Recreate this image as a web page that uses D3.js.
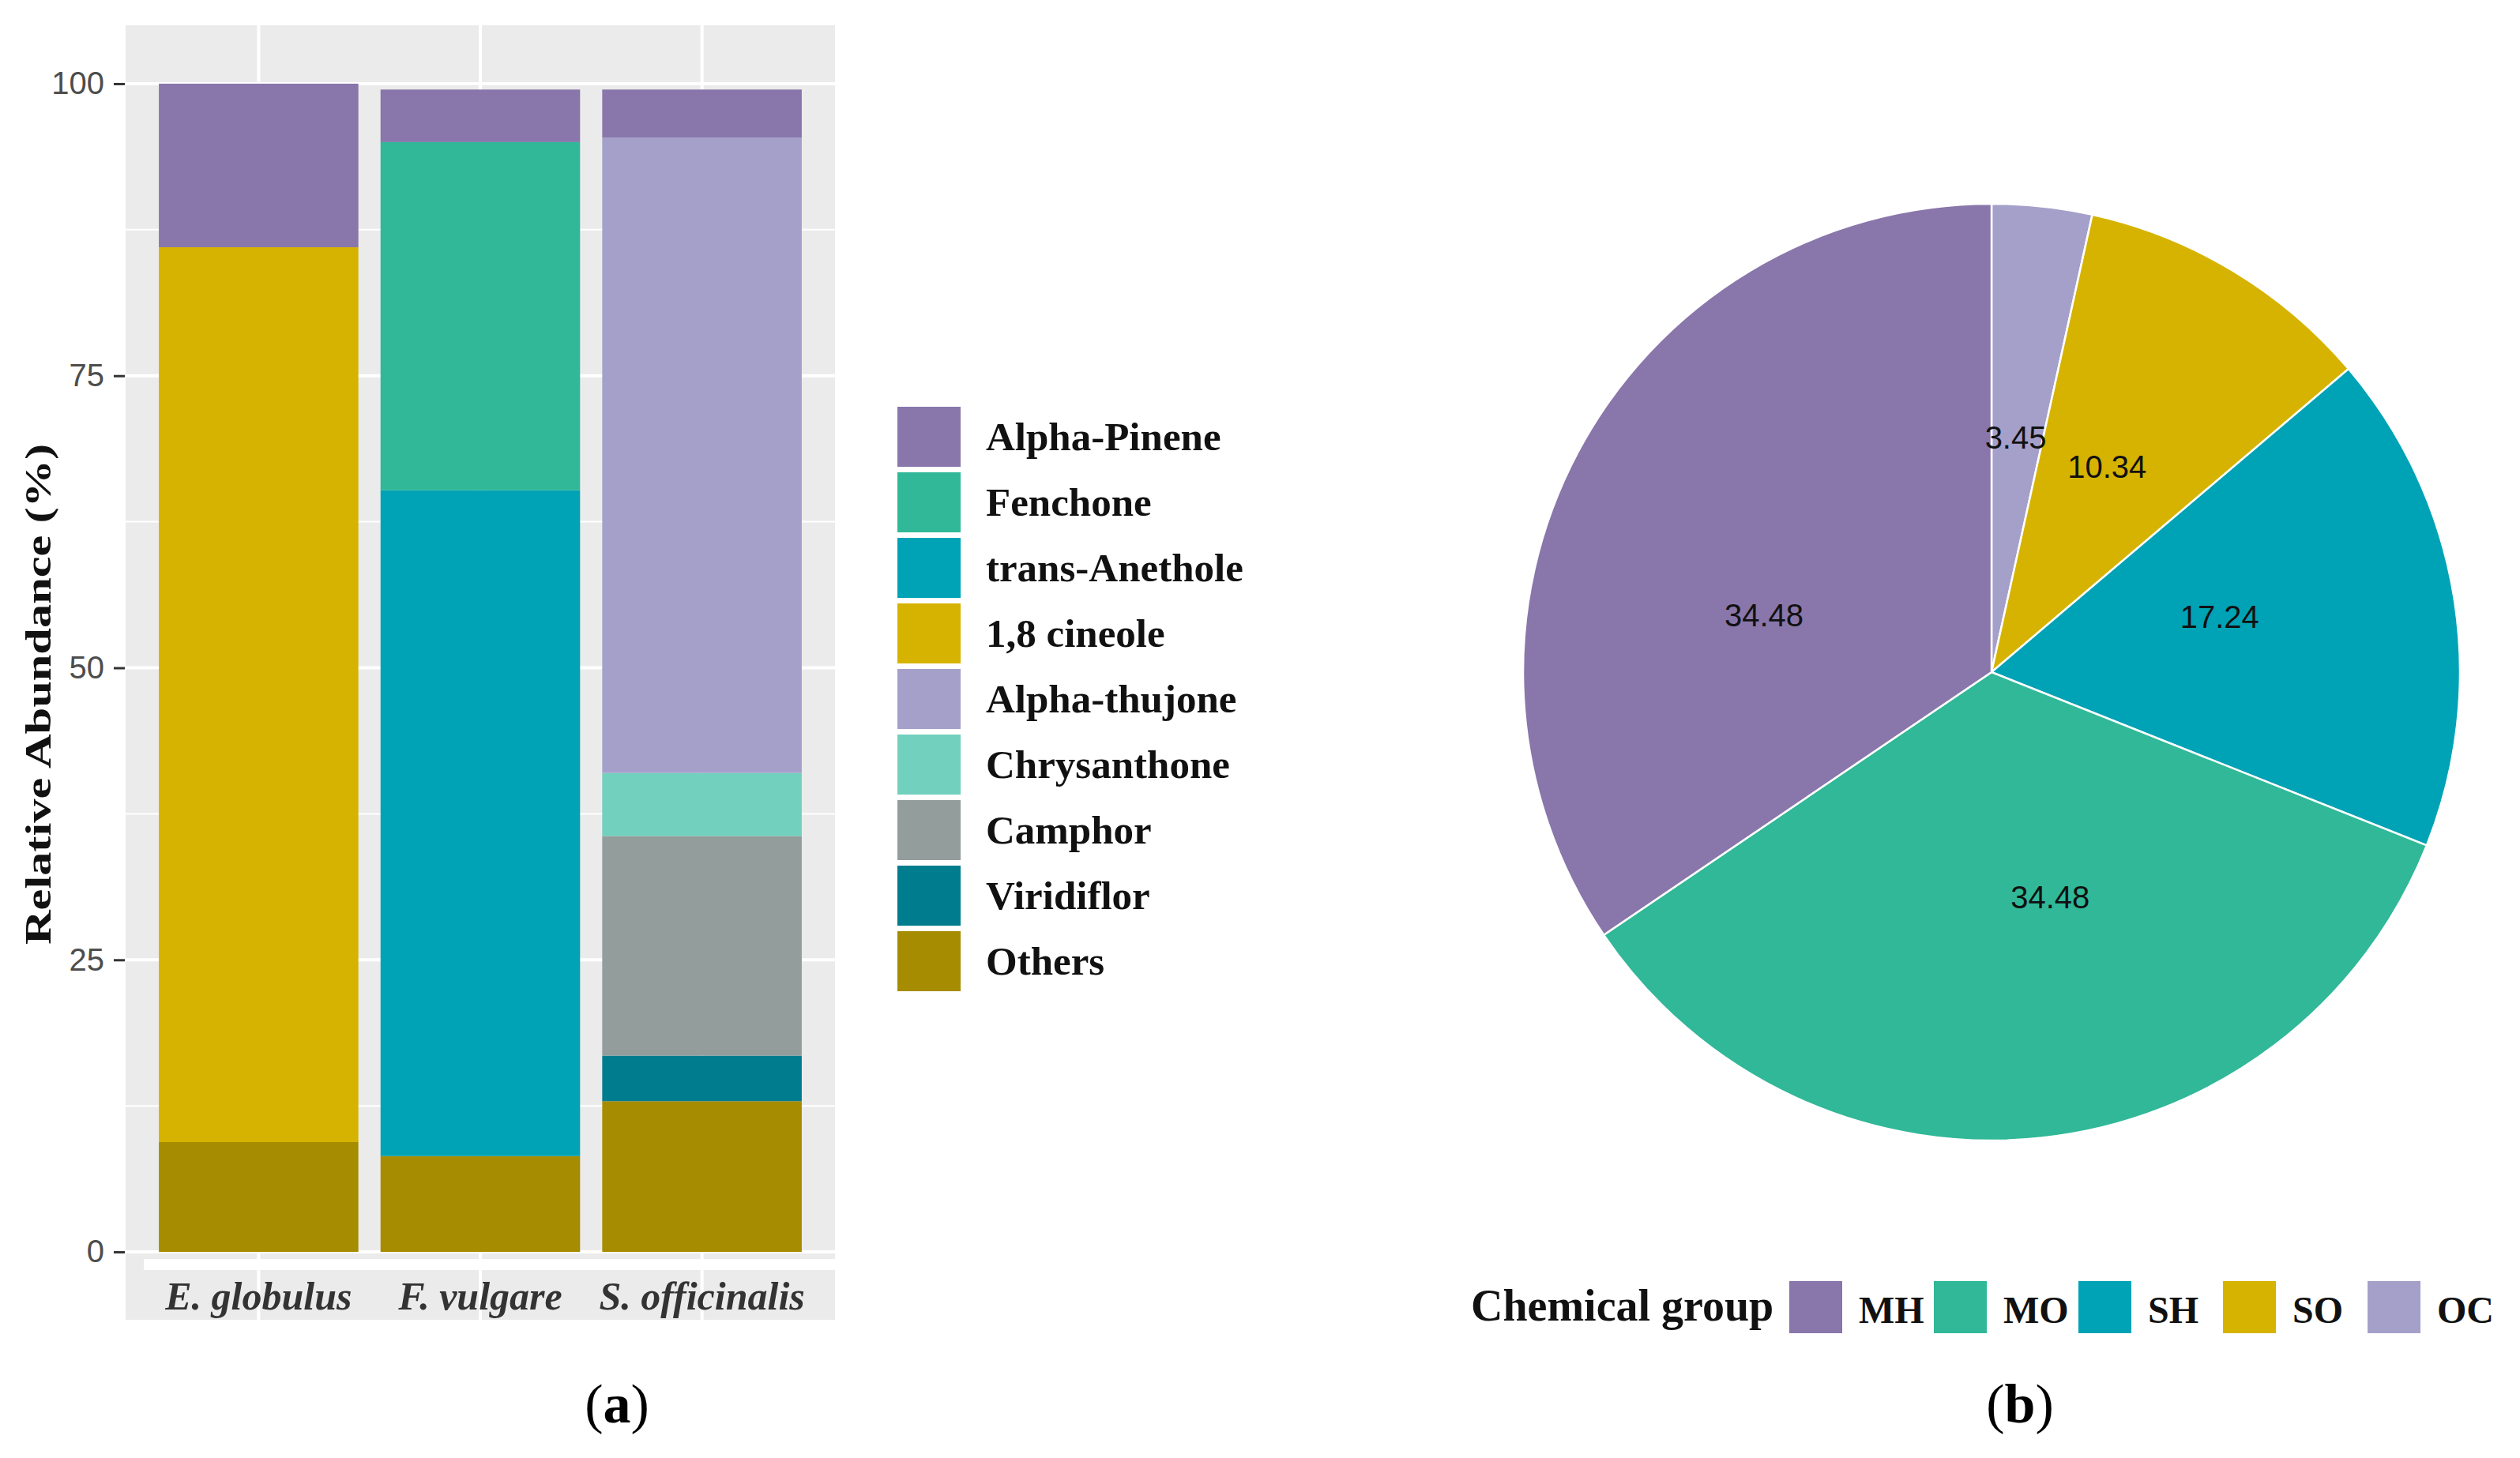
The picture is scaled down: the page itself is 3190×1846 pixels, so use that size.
<!DOCTYPE html>
<html>
<head>
<meta charset="utf-8">
<script src="https://cdn.jsdelivr.net/npm/d3@7"></script>
<style>
  body { margin: 0; background: #fff; }
  .serif { font-family: 'Liberation Serif', 'Times New Roman', serif; }
  .sans { font-family: 'Liberation Sans', Arial, sans-serif; }
</style>
</head>
<body>
<div id="chart"></div>
<script>
// Essential oil composition: stacked bars (a) and chemical group pie (b)

// --- data ---
const species = ['E. globulus', 'F. vulgare', 'S. officinalis']
const compounds = ['Alpha-Pinene', 'Fenchone', 'trans-Anethole', '1,8 cineole', 'Alpha-thujone',
  'Chrysanthone', 'Camphor', 'Viridiflor', 'Others']
const compoundColors = ['#8976ab', '#30b898', '#00a3b6', '#d6b300', '#a5a0ca',
  '#72d0be', '#939d9b', '#007c8f', '#a68c00']
// relative abundance (%) per compound, same order as compounds
const eGlobulus = [14.0, 0, 0, 76.6, 0, 0, 0, 0, 9.4]
const fVulgare = [4.5, 29.8, 57.0, 0, 0, 0, 0, 0, 8.2]
const sOfficinalis = [4.1, 0, 0, 0, 54.4, 5.4, 18.8, 3.9, 12.9]
const yTicks = [0, 25, 50, 75, 100]

const groups = ['MH', 'MO', 'SH', 'SO', 'OC']
const groupColors = ['#8976ab', '#30b898', '#00a3b6', '#d6b300', '#a5a0ca']
const groupPercent = [34.48, 34.48, 17.24, 10.34, 3.45]

const width = 3190
const height = 1846

const svg = d3.select('#chart')
  .append('svg')
  .attr('width', width)
  .attr('height', height)

// ---------- panel (a) ----------
const panel = { left: 159, right: 1057, top: 32, bottom: 1659 }

const x = d3.scaleBand()
  .domain(species)
  .range([panel.left, panel.right])
  .paddingInner(0.1)
  .paddingOuter(0.15)

const y = d3.scaleLinear()
  .domain([-5, 105])
  .range([panel.bottom, panel.top])

const color = d3.scaleOrdinal().domain(compounds).range(compoundColors)

// panel background (grey strip runs under the species labels too)
svg.append('rect')
  .attr('x', panel.left)
  .attr('y', panel.top)
  .attr('width', panel.right - panel.left)
  .attr('height', 1671 - panel.top)
  .attr('fill', '#ebebeb')

// minor + major gridlines
const minor = d3.range(12.5, 100, 25)
svg.selectAll('.minor')
  .data(minor)
  .join('line')
  .attr('x1', panel.left).attr('x2', panel.right)
  .attr('y1', d => y(d)).attr('y2', d => y(d))
  .attr('stroke', '#fff').attr('stroke-width', 2)

svg.selectAll('.major')
  .data(yTicks)
  .join('line')
  .attr('x1', panel.left).attr('x2', panel.right)
  .attr('y1', d => y(d)).attr('y2', d => y(d))
  .attr('stroke', '#fff').attr('stroke-width', 4)

svg.selectAll('.vgrid')
  .data(species)
  .join('line')
  .attr('x1', d => x(d) + x.bandwidth() / 2)
  .attr('x2', d => x(d) + x.bandwidth() / 2)
  .attr('y1', panel.top).attr('y2', 1671)
  .attr('stroke', '#fff').attr('stroke-width', 4)

// white gap above the label strip
svg.append('rect')
  .attr('x', 182).attr('y', 1594)
  .attr('width', panel.right - 182).attr('height', 14)
  .attr('fill', '#fff')

// stacked bars
const table = species.map((s, i) => {
  const vals = [eGlobulus, fVulgare, sOfficinalis][i]
  const row = { species: s }
  compounds.forEach((c, j) => { row[c] = vals[j] })
  return row
})

const stack = d3.stack().keys(compounds.slice().reverse())
const layers = stack(table)

svg.append('g')
  .selectAll('g')
  .data(layers)
  .join('g')
  .attr('fill', d => color(d.key))
  .selectAll('rect')
  .data(d => d.filter(s => s[1] - s[0] > 0))
  .join('rect')
  .attr('x', d => x(d.data.species))
  .attr('width', x.bandwidth())
  .attr('y', d => y(d[1]))
  .attr('height', d => y(d[0]) - y(d[1]))

// y axis
const yAxis = svg.append('g')
  .attr('transform', `translate(${panel.left - 1},0)`)
  .call(d3.axisLeft(y).tickValues(yTicks).tickSize(14).tickPadding(12))
yAxis.select('.domain').remove()
yAxis.selectAll('line').attr('stroke', '#333').attr('stroke-width', 3)
yAxis.selectAll('text')
  .attr('class', 'sans')
  .attr('font-size', 40)
  .attr('fill', '#4d4d4d')

// species labels
svg.selectAll('.sp')
  .data(species)
  .join('text')
  .attr('class', 'serif')
  .attr('x', d => x(d) + x.bandwidth() / 2)
  .attr('y', 1658)
  .attr('text-anchor', 'middle')
  .attr('font-size', 50)
  .attr('font-style', 'italic')
  .attr('font-weight', 'bold')
  .attr('fill', '#333')
  .text(d => d)

// y title
svg.append('text')
  .attr('class', 'serif')
  .attr('transform', 'translate(64,879) rotate(-90)')
  .attr('text-anchor', 'middle')
  .attr('font-size', 46)
  .attr('font-weight', 'bold')
  .attr('textLength', 634)
  .attr('lengthAdjust', 'spacingAndGlyphs')
  .attr('fill', '#111')
  .text('Relative Abundance (%)')

// legend (a)
const legA = svg.append('g').attr('transform', 'translate(1136,515)')
const legItems = legA.selectAll('g')
  .data(compounds)
  .join('g')
  .attr('transform', (d, i) => `translate(0,${i * 83})`)
legItems.append('rect')
  .attr('width', 80).attr('height', 76)
  .attr('fill', d => color(d))
legItems.append('text')
  .attr('class', 'serif')
  .attr('x', 112)
  .attr('y', 38)
  .attr('dy', '0.33em')
  .attr('font-size', 51)
  .attr('font-weight', 'bold')
  .attr('fill', '#111')
  .text(d => d)

svg.append('text')
  .attr('class', 'serif')
  .attr('x', 781).attr('y', 1801)
  .attr('text-anchor', 'middle')
  .attr('font-size', 70)
  .attr('fill', '#000')
  .html('(<tspan font-weight="bold">a</tspan>)')

// ---------- panel (b) ----------
const cx = 2521
const cy = 851
const radius = 593

const pieColor = d3.scaleOrdinal().domain(groups).range(groupColors)
// ggplot stacks the last level first, so the pie runs OC -> MH clockwise from 12 o'clock
const pieData = groups.map((g, i) => ({ group: g, value: groupPercent[i] })).reverse()

const pie = d3.pie().sort(null).value(d => d.value)
const arcs = pie(pieData)
const arc = d3.arc().innerRadius(0).outerRadius(radius)

const gPie = svg.append('g').attr('transform', `translate(${cx},${cy})`)
gPie.selectAll('path')
  .data(arcs)
  .join('path')
  .attr('d', arc)
  .attr('fill', d => pieColor(d.data.group))
  .attr('stroke', '#fff')
  .attr('stroke-width', 2.5)

// value labels sit at half radius, on the text layer's own theta scale
const cum = d3.cumsum(pieData, d => d.value)
const theta = d3.scaleLinear().domain([0, 105]).range([0, 2 * Math.PI])
gPie.selectAll('.lab')
  .data(pieData)
  .join('text')
  .attr('class', 'sans')
  .attr('x', (d, i) => Math.sin(theta(cum[i] - d.value / 2)) * radius * 0.5)
  .attr('y', (d, i) => -Math.cos(theta(cum[i] - d.value / 2)) * radius * 0.5)
  .attr('dy', '0.3em')
  .attr('text-anchor', 'middle')
  .attr('font-size', 40)
  .attr('fill', '#111')
  .text(d => d.value.toFixed(2))

// legend (b)
svg.append('text')
  .attr('class', 'serif')
  .attr('x', 1862).attr('y', 1672)
  .attr('font-size', 56)
  .attr('font-weight', 'bold')
  .attr('fill', '#111')
  .text('Chemical group')

const legB = svg.append('g')
  .selectAll('g')
  .data(groups)
  .join('g')
  .attr('transform', (d, i) => `translate(${2265 + i * 183},1622)`)
legB.append('rect')
  .attr('width', 67).attr('height', 66)
  .attr('fill', d => pieColor(d))
legB.append('text')
  .attr('class', 'serif')
  .attr('x', 88).attr('y', 53)
  .attr('font-size', 48)
  .attr('font-weight', 'bold')
  .attr('fill', '#111')
  .text(d => d)

svg.append('text')
  .attr('class', 'serif')
  .attr('x', 2557).attr('y', 1801)
  .attr('text-anchor', 'middle')
  .attr('font-size', 70)
  .attr('fill', '#000')
  .html('(<tspan font-weight="bold">b</tspan>)')
</script>
</body>
</html>
